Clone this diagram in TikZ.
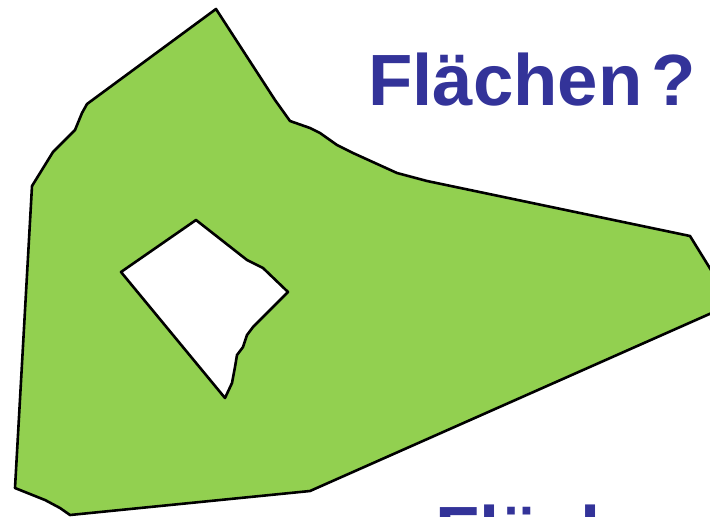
\documentclass[tikz,border=0pt]{standalone}
\usepackage{fontspec}
\setmainfont{Liberation Sans}
\definecolor{leafgreen}{RGB}{146,208,80}
\definecolor{titleblue}{RGB}{51,51,153}

\begin{document}
\begin{tikzpicture}[
  x=1pt, y=-1pt,
  area/.style={draw=black, fill=leafgreen, line width=2.6pt,
    line join=round, even odd rule},
  title/.style={text=titleblue, inner sep=0pt, anchor=base west,
    font=\fontsize{72.6}{80}\selectfont\bfseries}
]
\useasboundingbox (0,0) rectangle (710,517);
\clip (0,0) rectangle (710,517);

% Outer boundary and the hole
\filldraw[area]
  (216,9) -- (275,100) -- (290,121) -- (310,128) -- (320,133)
  -- (337,145) -- (353,153) -- (397,173) -- (427,181) -- (470,190)
  -- (690,236) -- (732,304) -- (310,491) -- (70,515) -- (60,508)
  -- (45,500) -- (15,488) -- (32,186) -- (53,152) -- (75,130)
  -- (82,113) -- (87,104) -- cycle
  (121,272) -- (196,220) -- (247,260) -- (253,263) -- (263,268)
  -- (288,292) -- (253,327) -- (247,335) -- (243,347) -- (237,355)
  -- (235,367) -- (232,383) -- (225,398) -- cycle;

% Titles
\node[title] (question) at (368,105) {Flächen\hspace{9pt}?};
\node[title] (lower) at (435,557) {Flächen};

\end{tikzpicture}
\end{document}
